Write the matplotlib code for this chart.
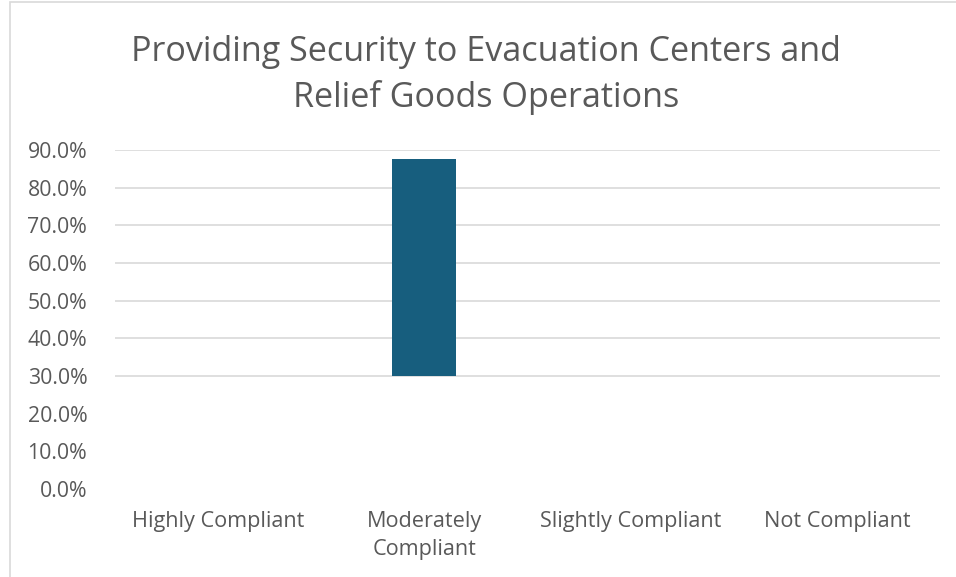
import numpy as np
import matplotlib.pyplot as plt
from matplotlib.patches import Rectangle

categories = ["Highly Compliant", "Moderately\nCompliant", "Slightly Compliant", "Not Compliant"]
bar_bottom = [0.0, 30.0, 0.0, 0.0]
bar_top = [0.0, 87.5, 0.0, 0.0]
yticks = [0, 10, 20, 30, 40, 50, 60, 70, 80, 90]
grid_levels = [30, 40, 50, 60, 70, 80, 90]

text_color = "#595959"
plt.rcParams['font.family'] = ['Open Sans', 'DejaVu Sans']

fig = plt.figure(figsize=(9.56, 5.77), dpi=100)
ax = fig.add_axes([115 / 956, 1 - 489 / 577, 825 / 956, 339 / 577])

# chart frame
fig.patches.append(Rectangle((10 / 956, -0.1), 1.2, 1 - 2 / 577 + 0.1,
                             transform=fig.transFigure, fill=False,
                             edgecolor="#d9d9d9", linewidth=1.2))

x = np.arange(len(categories))
heights = np.array(bar_top) - np.array(bar_bottom)
for g in grid_levels:
    ax.axhline(g, color="#d9d9d9", linewidth=1.2, zorder=0)
ax.bar(x, heights, bottom=bar_bottom, width=0.31, color="#175E7E", zorder=2)

ax.set_xlim(-0.5, len(categories) - 0.5)
ax.set_ylim(0, 90)
ax.set_yticks(yticks)
ax.set_yticklabels([f"{v:.1f}%" for v in yticks], color=text_color, fontsize=15.3)
ax.set_xticks(x)
ax.set_xticklabels(categories, color=text_color, fontsize=15.6, linespacing=1.42)
ax.tick_params(length=0, axis="y", pad=20)
ax.tick_params(length=0, axis="x", pad=16)
for s in ax.spines.values():
    s.set_visible(False)

fig.text(486 / 956, 1 - 75 / 577, "Providing Security to Evacuation Centers and\nRelief Goods Operations",
         ha="center", va="center", fontsize=24.6, color=text_color, linespacing=1.42)

fig.savefig("out.png", dpi=100)
